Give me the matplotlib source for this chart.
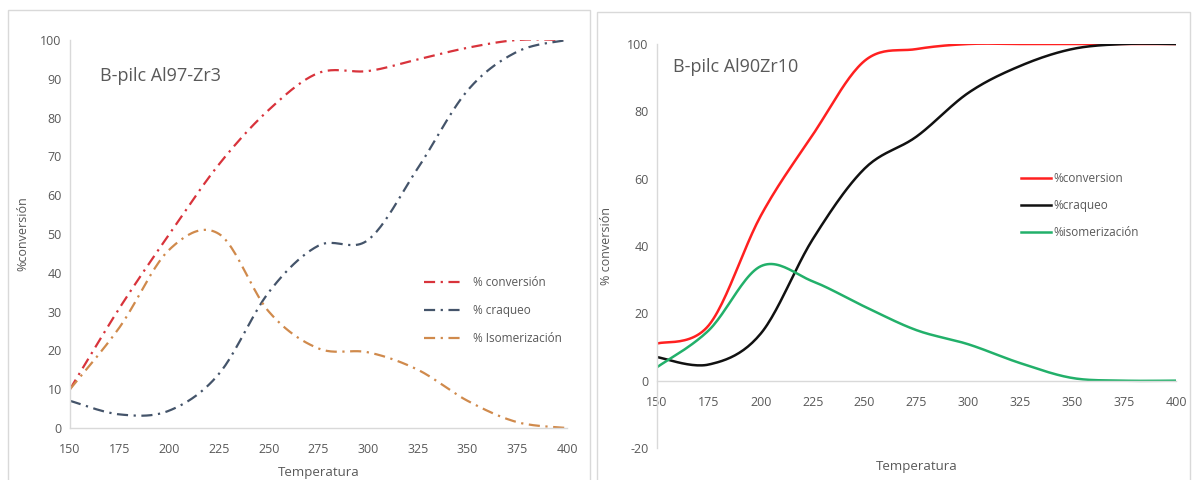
import matplotlib
matplotlib.use("Agg")
import matplotlib.pyplot as plt
import numpy as np
from matplotlib.patches import Rectangle

# %%
temps = [150, 175, 200, 225, 250, 275, 300, 325, 350, 375, 400]

# left panel: B-pilc Al97-Zr3
conv_a = [10, 31, 50, 68, 82, 91.5, 92, 95, 98, 100, 100]
crack_a = [7, 3.5, 4.5, 14, 35, 47, 48.5, 67, 87, 97, 100]
iso_a = [10, 26, 46, 50, 30, 20.5, 19.5, 15, 7, 1.5, 0]

# right panel: B-pilc Al90Zr10
conv_b = [11, 16.5, 49, 73, 95, 98.5, 100, 100, 100, 100, 100]
crack_b = [7, 4.8, 14, 42, 63, 72.5, 85.5, 93.5, 98.5, 100, 100]
iso_b = [4, 15, 34, 29.5, 22, 15, 10.8, 5.2, 0.8, 0, 0]

labels_a = ['% conversión', '% craqueo', '% Isomerización']
labels_b = ['%conversion', '%craqueo', '%isomerización']
colors_a = ['#d8333b', '#44546a', '#d08a4c']
colors_b = ['#ff2020', '#111111', '#22b06a']


def smooth(x, y, n=24):
    # excel style smoothed line (catmull-rom through the points)
    x = np.asarray(x, float)
    y = np.asarray(y, float)
    px = np.concatenate([[x[0]], x, [x[-1]]])
    py = np.concatenate([[y[0]], y, [y[-1]]])
    t = np.linspace(0, 1, n, endpoint=False)
    xs, ys = [], []
    for i in range(1, len(px) - 2):
        for p, out in ((px, xs), (py, ys)):
            p0, p1, p2, p3 = p[i - 1], p[i], p[i + 1], p[i + 2]
            out.append(0.5 * (2 * p1 + (-p0 + p2) * t + (2 * p0 - 5 * p1 + 4 * p2 - p3) * t ** 2
                              + (-p0 + 3 * p1 - 3 * p2 + p3) * t ** 3))
    xs.append([x[-1]])
    ys.append([y[-1]])
    return np.concatenate(xs), np.concatenate(ys)


plt.rcParams['font.family'] = ['Open Sans', 'DejaVu Sans']
plt.rcParams['axes.unicode_minus'] = False
grey = '#595959'
axis_grey = '#d9d9d9'

W, H = 1193, 480
fig = plt.figure(figsize=(W / 100, H / 100), dpi=100)

# chart frames
fig.patches.append(Rectangle((8 / W, -0.01), 582 / W, (480 - 10) / H + 0.01, transform=fig.transFigure,
                             fill=False, edgecolor=axis_grey, lw=1))
fig.patches.append(Rectangle((597 / W, -0.01), 593 / W, (480 - 12) / H + 0.01, transform=fig.transFigure,
                             fill=False, edgecolor=axis_grey, lw=1))


def style(ax):
    for s in ['top', 'right']:
        ax.spines[s].set_visible(False)
    for s in ['left', 'bottom']:
        ax.spines[s].set_color(axis_grey)
        ax.spines[s].set_linewidth(1)
    ax.tick_params(length=0, labelsize=9, colors=grey, pad=6)
    ax.tick_params(axis='x', pad=11)
    ax.set_xlim(150, 400)
    ax.set_xticks(temps)


# %% left
ax1 = fig.add_axes([70 / W, (480 - 428) / H, 497 / W, 388 / H])
style(ax1)
ax1.set_ylim(0, 100)
ax1.set_yticks(range(0, 101, 10))
for vals, c, lab in zip([conv_a, crack_a, iso_a], colors_a, labels_a):
    sx, sy = smooth(temps, vals)
    ax1.plot(sx, sy, color=c, lw=1.6, linestyle=(0, (5, 2.5, 1, 2.5)), label=lab)
ax1.text(0.06, 0.895, 'B-pilc Al97-Zr3', transform=ax1.transAxes, fontsize=13, color=grey)
ax1.set_ylabel('%conversión', fontsize=9, color=grey, labelpad=8)
ax1.set_xlabel('Temperatura', fontsize=9.5, color=grey, labelpad=7)
ax1.legend(loc='upper left', bbox_to_anchor=(0.69, 0.42), frameon=False, fontsize=8.5,
           labelcolor=grey, handlelength=3.2, handletextpad=1.0, labelspacing=1.3)

# %% right
ax2 = fig.add_axes([657 / W, (480 - 448) / H, 519 / W, 404 / H])
style(ax2)
ax2.set_ylim(-20, 100)
ax2.set_yticks(range(-20, 101, 20))
ax2.spines['bottom'].set_position(('data', 0))
for vals, c, lab in zip([conv_b, crack_b, iso_b], colors_b, labels_b):
    sx, sy = smooth(temps, vals)
    ax2.plot(sx, sy, color=c, lw=1.8, label=lab)
ax2.text(0.03, 0.93, 'B-pilc Al90Zr10', transform=ax2.transAxes, fontsize=13, color=grey)
ax2.set_ylabel('% conversión', fontsize=9, color=grey, labelpad=10)
ax2.set_xlabel('Temperatura', fontsize=9.5, color=grey)
ax2.xaxis.set_label_coords(0.5, -0.03)
ax2.legend(loc='upper left', bbox_to_anchor=(0.68, 0.71), frameon=False, fontsize=8.5,
           labelcolor=grey, handlelength=2.6, handletextpad=0.15, labelspacing=1.2)

fig.savefig('out.png', dpi=100)
